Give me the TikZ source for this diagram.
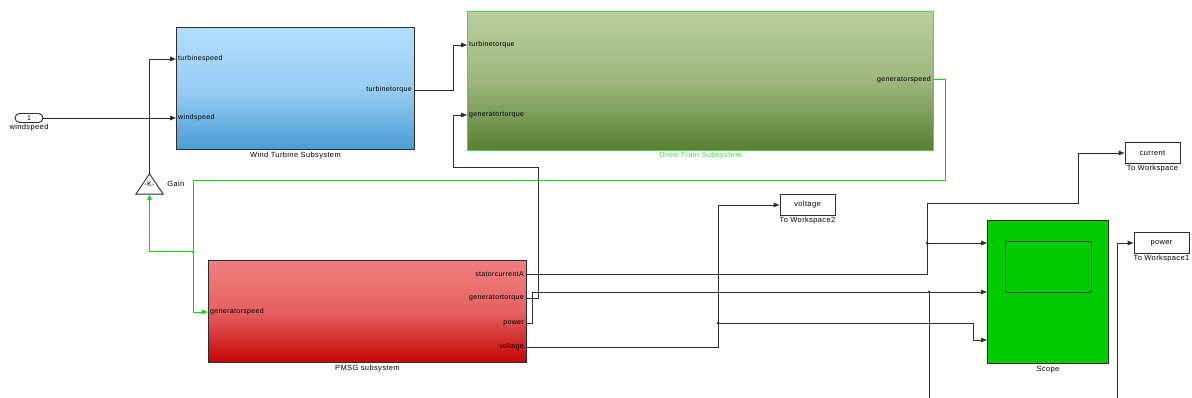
\documentclass[tikz,border=0pt]{standalone}
\usepackage{fontspec}
\setmainfont[LetterSpace=5]{Liberation Sans}
\usetikzlibrary{arrows.meta,positioning}

\definecolor{wtTop}{RGB}{178,222,255}
\definecolor{wtBot}{RGB}{74,156,212}
\definecolor{dtTop}{RGB}{186,206,158}
\definecolor{dtBot}{RGB}{88,128,48}
\definecolor{dtLine}{RGB}{70,215,70}
\definecolor{pmTop}{RGB}{241,128,128}
\definecolor{pmBot}{RGB}{196,4,4}
\definecolor{scFill}{RGB}{0,204,0}
\definecolor{wireC}{RGB}{45,45,45}
\definecolor{gwireC}{RGB}{20,215,20}

\begin{document}
\begin{tikzpicture}[x=1pt, y=-1pt,
    blk/.style={draw=wireC, line width=.9pt, anchor=north west, inner sep=0pt},
    ws/.style={draw=wireC, line width=.9pt, fill=white, minimum width=55pt,
      minimum height=21pt, inner sep=0pt, font=\fontsize{7.5}{8}\selectfont},
    lbl/.style={font=\fontsize{7.5}{8}\selectfont, inner sep=1pt},
    prt/.style={font=\fontsize{7}{8}\selectfont, inner sep=2pt},
    ln/.style={draw=wireC, line width=.9pt},
    wire/.style={ln, -{Triangle[length=6pt,width=4.5pt]}},
    gwire/.style={wire, draw=gwireC, line width=1pt},
    dot/.style={circle, fill=wireC, inner sep=0pt, minimum size=3pt}]

  \useasboundingbox (0,0) rectangle (1192,398);

  % inport
  \node[draw=wireC, line width=.9pt, rounded corners=4.5pt, minimum width=28pt,
    minimum height=9pt, inner sep=0pt, font=\fontsize{7}{8}\selectfont] (in1) at (29,118) {1};
  \node[lbl, below=0pt of in1] (in1-l) {windspeed};

  % wind turbine subsystem
  \node[blk, minimum width=238pt, minimum height=122pt,
    top color=wtTop, bottom color=wtBot, middle color=wtTop!75!wtBot] (wt) at (176,27) {};
  \node[lbl, below=1pt of wt] (wt-l) {Wind Turbine Subsystem};
  \coordinate (wt-ts) at (176,59);
  \coordinate (wt-ws) at (176,118);
  \coordinate (wt-tt) at (414,90);
  \node[prt, anchor=west] (wt-ts-l) at (wt-ts) {turbinespeed};
  \node[prt, anchor=west] (wt-ws-l) at (wt-ws) {windspeed};
  \node[prt, anchor=east] (wt-tt-l) at (wt-tt) {turbinetorque};

  % drive train subsystem
  \node[blk, draw=dtLine, minimum width=466pt, minimum height=139pt,
    top color=dtTop, bottom color=dtBot, middle color=dtTop!70!dtBot] (dt) at (467,11) {};
  \node[lbl, text=dtLine, below=0pt of dt] (dt-l) {Drive Train Subsystem};
  \coordinate (dt-tt) at (467,45);
  \coordinate (dt-gt) at (467,115);
  \coordinate (dt-gs) at (933,80);
  \node[prt, anchor=west] (dt-tt-l) at (dt-tt) {turbinetorque};
  \node[prt, anchor=west] (dt-gt-l) at (dt-gt) {generatortorque};
  \node[prt, anchor=east] (dt-gs-l) at (dt-gs) {generatorspeed};

  % PMSG subsystem
  \node[blk, minimum width=318pt, minimum height=102pt,
    top color=pmTop, bottom color=pmBot, middle color=pmTop!75!pmBot] (pm) at (208,260) {};
  \node[lbl, below=1pt of pm] (pm-l) {PMSG subsystem};
  \coordinate (pm-gs) at (208,312);
  \coordinate (pm-sc) at (526,274);
  \coordinate (pm-gt) at (526,298);
  \coordinate (pm-pw) at (526,323);
  \coordinate (pm-v) at (526,347);
  \node[prt, anchor=west] (pm-gs-l) at (pm-gs) {generatorspeed};
  \node[prt, anchor=east] (pm-sc-l) at (pm-sc) {statorcurrentA};
  \node[prt, anchor=east] (pm-gt-l) at (pm-gt) {generatortorque};
  \node[prt, anchor=east] (pm-pw-l) at (pm-pw) {power};
  \node[prt, anchor=east] (pm-v-l) at (pm-v) {voltage};

  % gain
  \node[minimum width=27pt, minimum height=20pt, inner sep=0pt,
    font=\fontsize{7}{8}\selectfont] (gain) at (149.5,184) {\raisebox{-2pt}{-K-}};
  \draw[ln] (gain.south west) -- (gain.north) -- (gain.south east) -- cycle;
  \node[lbl, right=3pt of gain] (gain-l) {Gain};

  % scope
  \node[blk, fill=scFill, minimum width=121pt, minimum height=143pt] (sc) at (987,220) {};
  \node[draw=black!75, line width=.9pt, anchor=north west, minimum width=86pt,
    minimum height=51pt, inner sep=0pt] (sc-scr) at (1005,241) {};
  \node[lbl, below=1pt of sc] (sc-l) {Scope};
  \coordinate (sc-in1) at (987,243);
  \coordinate (sc-in2) at (987,292);
  \coordinate (sc-in3) at (987,340);

  % to workspace blocks
  \node[ws] (wsc) at (1152.5,153) {current};
  \node[lbl, below=0pt of wsc] (wsc-l) {To Workspace};
  \node[ws] (wsv) at (807.5,205) {voltage};
  \node[lbl, below=0pt of wsv] (wsv-l) {To Workspace2};
  \node[ws] (wsp) at (1161.5,243) {power};
  \node[lbl, below=0pt of wsp] (wsp-l) {To Workspace1};

  % wires
  \draw[wire] (in1) -- (wt-ws);
  \draw[wire] (gain.north) |- (wt-ts);
  \draw[wire] (wt-tt) -- ++(39,0) |- (dt-tt);
  \draw[wire] (pm-gt) -| ++(12,-131) -| ++(-85,-52) -- (dt-gt);

  % speed feedback
  \draw[gwire] (dt-gs) -| (945,181) -| (193,312) -- (pm-gs);
  \node[dot, fill=gwireC] (jg) at (193,252) {};
  \draw[gwire] (jg.center) -| (gain.south);

  % outputs
  \draw[wire] (pm-sc) -| (927,203) -| (1078,153) -- (wsc.west);
  \node[dot] (j1) at (927,243) {};
  \draw[wire] (j1.center) -- (sc-in1);

  \draw[wire] (pm-pw) -- ++(6,0) |- (sc-in2);
  \node[dot] (j2) at (929,292) {};
  \draw[wire] (j2.center) |- (1117,410) |- (wsp.west);

  \draw[wire] (pm-v) -| ++(192,-142) -- (wsv.west);
  \node[dot] (j3) at (718,323) {};
  \draw[wire] (j3.center) -| ++(255,17) -- (sc-in3);
\end{tikzpicture}
\end{document}
